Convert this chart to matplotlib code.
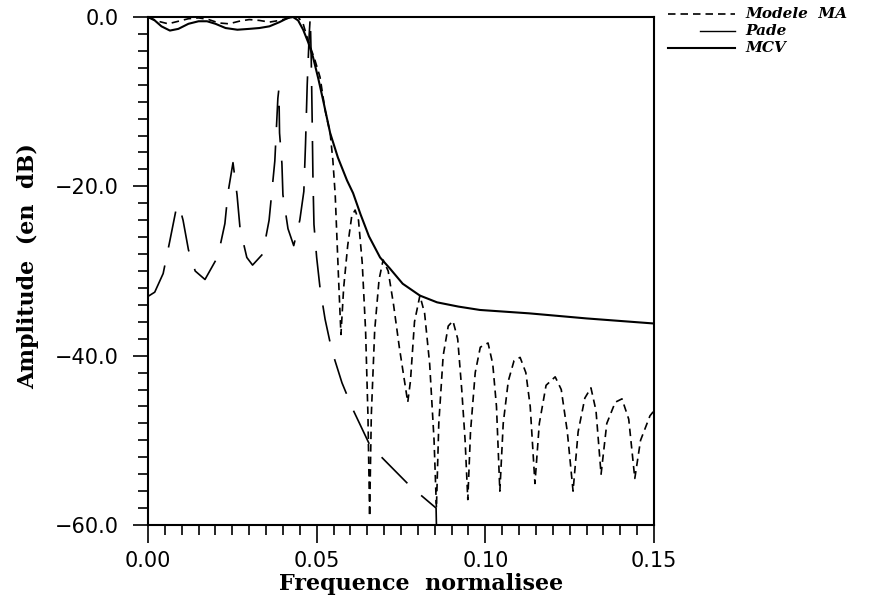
import matplotlib
matplotlib.use("Agg")
import matplotlib.pyplot as plt
from matplotlib.lines import Line2D
from matplotlib.ticker import MultipleLocator, FixedLocator

# ---- data ----
mcv_f = [0.000, 0.002, 0.004, 0.0065, 0.009, 0.012, 0.015, 0.0175, 0.020, 0.023,
         0.0265, 0.030, 0.033, 0.036, 0.039, 0.0415, 0.043, 0.0445, 0.046, 0.0475,
         0.0489, 0.0505, 0.0519, 0.054, 0.0563, 0.059, 0.0608, 0.063, 0.0655, 0.0688,
         0.0717, 0.0755, 0.0806, 0.0857, 0.092, 0.0984, 0.113, 0.130, 0.150]
mcv_db = [0.0, -0.4, -1.1, -1.6, -1.4, -0.8, -0.5, -0.5, -0.8, -1.3,
          -1.5, -1.4, -1.3, -1.1, -0.6, -0.1, 0.0, -0.4, -1.5, -3.0,
          -4.7, -7.3, -9.8, -13.7, -16.6, -19.3, -20.8, -23.3, -25.9, -28.4,
          -29.7, -31.5, -32.9, -33.7, -34.2, -34.6, -35.0, -35.6, -36.2]

pade_f = [0.000, 0.002, 0.0045, 0.0065, 0.0083, 0.0092, 0.0104, 0.012, 0.014, 0.0169,
          0.0207, 0.0228, 0.0237, 0.0252, 0.0264, 0.0273, 0.0293, 0.031, 0.034, 0.0359,
          0.0376, 0.0385, 0.0388, 0.039, 0.0397, 0.040, 0.0415, 0.0432, 0.045, 0.0462,
          0.0467, 0.0472, 0.0478, 0.0481, 0.0484, 0.0487, 0.0489, 0.0492, 0.050, 0.051,
          0.0525, 0.0545, 0.0575, 0.0608, 0.0658, 0.071, 0.0777, 0.0854, 0.0856]
pade_db = [-33.0, -32.5, -30.3, -26.4, -22.8, -22.2, -24.0, -27.5, -30.0, -31.0,
           -28.3, -24.4, -20.8, -17.2, -21.0, -25.0, -28.4, -29.3, -28.0, -24.0,
           -17.0, -9.6, -8.5, -13.7, -17.3, -21.0, -25.0, -27.0, -24.0, -20.6,
           -15.0, -8.0, -2.0, 0.0, -5.0, -13.0, -19.0, -24.5, -28.4, -32.0,
           -35.7, -39.4, -43.2, -46.4, -50.6, -52.7, -55.4, -58.0, -62.0]

ma_f = [0.000, 0.003, 0.006, 0.009, 0.012, 0.015, 0.018, 0.021, 0.024, 0.027,
        0.030, 0.033, 0.036, 0.039, 0.042, 0.0445, 0.046, 0.0474, 0.0495, 0.051,
        0.0525, 0.054, 0.0548, 0.0555, 0.056, 0.0565, 0.0572, 0.058, 0.0592, 0.0604,
        0.0614, 0.0624, 0.0635, 0.0645, 0.0652, 0.0657, 0.0662, 0.0672, 0.0685, 0.0697,
        0.0712, 0.0728, 0.0745, 0.0770, 0.0778, 0.079, 0.0806, 0.082, 0.0835, 0.0848,
        0.0855, 0.0862, 0.0875, 0.089, 0.0904, 0.0918, 0.093, 0.094, 0.0948, 0.0956,
        0.097, 0.0985, 0.1008, 0.1022, 0.1033, 0.1043, 0.1053, 0.1068, 0.1085, 0.1103,
        0.112, 0.1133, 0.1147, 0.116, 0.118, 0.1207, 0.1225, 0.1243, 0.126, 0.1275,
        0.1295, 0.1313, 0.1328, 0.1343, 0.136, 0.1385, 0.1405, 0.1425, 0.1443, 0.146,
        0.1488, 0.150]
ma_db = [0.0, -0.5, -0.8, -0.5, -0.2, -0.1, -0.3, -0.7, -0.8, -0.5,
         -0.3, -0.4, -0.6, -0.4, -0.1, 0.0, -0.8, -2.7, -5.1, -7.1,
         -11.0, -13.7, -16.9, -21.0, -26.0, -31.0, -37.5, -32.0, -27.0, -23.5,
         -22.8, -24.0, -29.0, -37.0, -47.0, -59.0, -47.0, -37.0, -31.0, -28.7,
         -30.0, -34.0, -39.0, -45.5, -43.0, -36.0, -32.9, -35.0, -41.0, -50.0,
         -58.0, -48.0, -40.0, -36.5, -35.9, -38.0, -44.0, -50.0, -57.0, -49.0,
         -42.0, -39.0, -38.5, -41.0, -46.0, -56.0, -48.0, -43.0, -40.6, -40.2,
         -42.0, -46.0, -55.1, -48.0, -43.5, -42.5, -44.0, -49.0, -56.0, -49.0,
         -45.0, -43.8, -46.5, -54.0, -48.0, -45.5, -45.1, -47.5, -54.5, -50.0,
         -47.1, -46.5]

x_ticks = [0.00, 0.05, 0.10, 0.15]
x_ticklabels = ["0.00", "0.05", "0.10", "0.15"]
y_ticks = [0.0, -20.0, -40.0, -60.0]
y_ticklabels = ["0.0", "\u221220.0", "\u221240.0", "\u221260.0"]
legend_labels = ["Modele  MA", "Pade", "MCV"]

fig = plt.figure(figsize=(8.93, 6.08), dpi=100)
ax = fig.add_axes([0.1657, 0.1365, 0.5667, 0.8355])

ma_style = (0, (4.5, 3))
pade_style = (0, (22, 11))
ax.plot(ma_f, ma_db, color="black", lw=1.2, linestyle=ma_style)
ax.plot(pade_f, pade_db, color="black", lw=1.2, linestyle=pade_style)
ax.plot(mcv_f, mcv_db, color="black", lw=1.5)

ax.set_xlim(0, 0.15)
ax.set_ylim(-60, 0)

ax.xaxis.set_major_locator(FixedLocator(x_ticks))
ax.set_xticklabels(x_ticklabels)
ax.xaxis.set_minor_locator(MultipleLocator(0.005))
ax.yaxis.set_major_locator(FixedLocator(y_ticks))
ax.set_yticklabels(y_ticklabels)
ax.yaxis.set_minor_locator(MultipleLocator(2))

ax.tick_params(axis="both", which="both", direction="out", top=False, right=False,
               width=1.2, labelsize=15, colors="black")
ax.tick_params(axis="x", which="major", length=13, pad=6)
ax.tick_params(axis="x", which="minor", length=7)
ax.tick_params(axis="y", which="major", length=11, pad=10)
ax.tick_params(axis="y", which="minor", length=7)
for sp in ax.spines.values():
    sp.set_linewidth(1.5)

label_font = dict(family="DejaVu Serif", fontweight="bold", fontsize=16)
ax.set_xlabel("Frequence  normalisee", **label_font)
ax.set_ylabel("Amplitude  (en  dB)", **label_font)
ax.xaxis.set_label_coords(0.54, -0.095)
ax.yaxis.set_label_coords(-0.215, 0.51)

# ---- legend, drawn by hand outside the axes (top right) ----
leg_styles = [
    dict(lw=1.2, linestyle=ma_style, x0=668),
    dict(lw=1.0, linestyle="-", x0=700),
    dict(lw=1.5, linestyle="-", x0=668),
]
leg_font = dict(family="DejaVu Serif", weight="bold", style="italic", size=11)
for i, (lab, st) in enumerate(zip(legend_labels, leg_styles)):
    yy = 1 - (14 + 17 * i) / 608
    fig.add_artist(Line2D([st["x0"] / 893, 735 / 893], [yy, yy], color="black",
                          lw=st["lw"], linestyle=st["linestyle"]))
    fig.text(745 / 893, yy, lab, va="center", ha="left", **leg_font)

fig.savefig("out.png", dpi=100)
plt.close(fig)
